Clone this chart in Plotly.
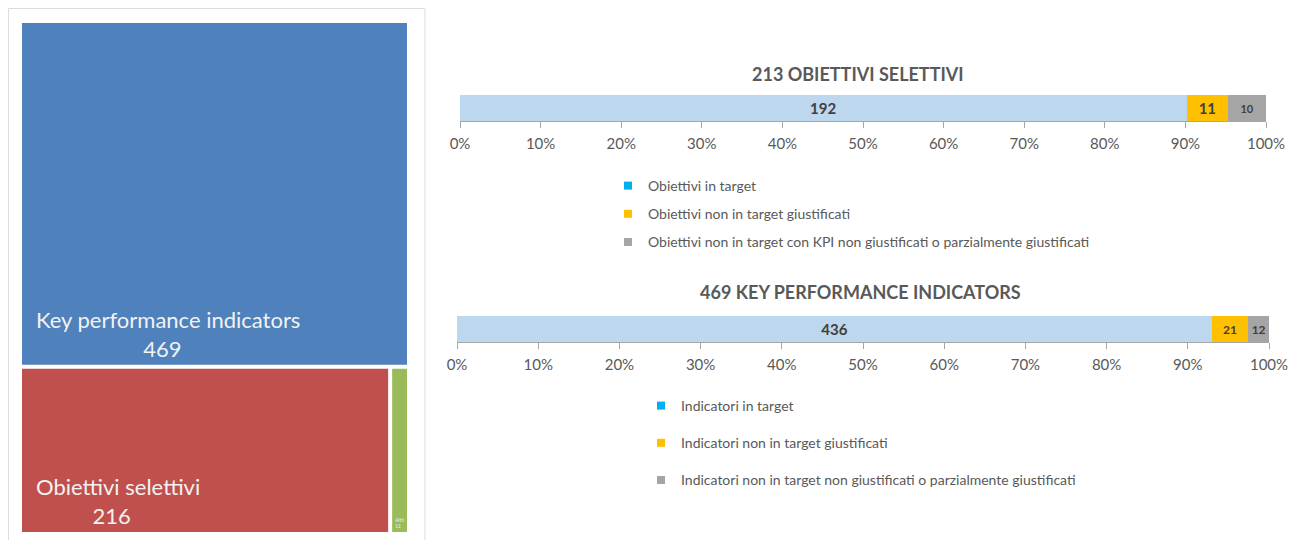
import plotly.graph_objects as go

# ---- data ----
tm_labels = ["Key performance indicators", "Obiettivi selettivi", "Altri"]
tm_values = [469, 216, 11]
tm_colors = ["#4F81BD", "#C0504D", "#9BBB59"]

obj_title = "213 OBIETTIVI SELETTIVI"
obj_names = ["Obiettivi in target", "Obiettivi non in target giustificati",
             "Obiettivi non in target con KPI non giustificati o parzialmente giustificati"]
obj_values = [192, 11, 10]

kpi_title = "469 KEY PERFORMANCE INDICATORS"
kpi_names = ["Indicatori in target", "Indicatori non in target giustificati",
             "Indicatori non in target non giustificati o parzialmente giustificati"]
kpi_values = [436, 21, 12]

bar_colors = ["#BDD7EE", "#FFC000", "#A5A5A5"]
legend_colors = ["#00B0F0", "#FFC000", "#A5A5A5"]
label_sizes_obj = [15, 15, 11]
label_sizes_kpi = [15, 12, 12]

top_note = "151 KPI"

FONT = "Lato"
GREY = "#595959"
W, H, OFF = 1296, 540, 8  # page offset of the plot div


def fx(px):
    return (px - OFF) / W


def fy(py):
    return 1 - (py - OFF) / H


fig = go.Figure()

# ---- treemap ----
nb = "\u00a0"
ind = "\u2002"
templates = [
    ind + "%{label}<br>" + nb * 21 + "%{value}",
    ind + "%{label}<br>" + nb * 12 + "%{value}",
    "%{label}<br>%{value}",
]
fig.add_trace(go.Treemap(
    labels=tm_labels,
    parents=[""] * len(tm_labels),
    values=tm_values,
    marker=dict(colors=tm_colors, line=dict(width=0), pad=dict(t=0, l=0, r=0, b=0)),
    texttemplate=templates,
    textposition="bottom left",
    textfont=dict(family=FONT, size=22, color="#F2F2F2"),
    tiling=dict(pad=4),
    pathbar=dict(visible=False),
    domain=dict(x=[fx(22), fx(407)], y=[fy(532), fy(23)]),
    sort=True,
    hoverinfo="label+value",
))

# ---- stacked bars ----
def add_bars(names, values, sizes, xa, ya, legend):
    for i, (n, v) in enumerate(zip(names, values)):
        fig.add_trace(go.Bar(
            x=[v], y=[0], orientation="h", name=n,
            marker=dict(color=bar_colors[i], line=dict(width=0)),
            text=[str(v)], textposition="inside", insidetextanchor="middle",
            textangle=0, constraintext="none",
            textfont=dict(family=FONT, size=sizes[i], color="#404040", weight="bold"),
            xaxis=xa, yaxis=ya, showlegend=False, width=1,
        ))
    for i, n in enumerate(names):
        fig.add_trace(go.Scatter(
            x=[None], y=[None], mode="markers", name=n,
            marker=dict(symbol="square", size=8, color=legend_colors[i]),
            xaxis=xa, yaxis=ya, legend=legend, legendgroup=legend + str(i),
        ))

add_bars(obj_names, obj_values, label_sizes_obj, "x", "y", "legend")
add_bars(kpi_names, kpi_values, label_sizes_kpi, "x2", "y2", "legend2")

axis_common = dict(
    range=[0, 100], dtick=10, ticksuffix="%", showgrid=False, zeroline=False,
    showline=True, linecolor="#A6A6A6", linewidth=1, ticks="outside",
    tickcolor="#A6A6A6", ticklen=6, tickfont=dict(family=FONT, size=15, color=GREY),
    ticklabelstandoff=3, fixedrange=True, automargin=False,
)
yaxis_common = dict(range=[-0.5, 0.5], visible=False, fixedrange=True, automargin=False)

fig.update_layout(
    width=W, height=H,
    margin=dict(l=0, r=0, t=0, b=0, autoexpand=False),
    paper_bgcolor="white", plot_bgcolor="white",
    barmode="stack", barnorm="percent",
    xaxis=dict(domain=[fx(460), fx(1266)], anchor="y", **axis_common),
    yaxis=dict(domain=[fy(121), fy(95)], anchor="x", **yaxis_common),
    xaxis2=dict(domain=[fx(457), fx(1269)], anchor="y2", **axis_common),
    yaxis2=dict(domain=[fy(342), fy(316)], anchor="x2", **yaxis_common),
    legend=dict(x=fx(608), y=fy(170), xanchor="left", yanchor="top",
                font=dict(family=FONT, size=14, color=GREY), tracegroupgap=7,
                bgcolor="rgba(0,0,0,0)", itemclick=False),
    legend2=dict(x=fx(641), y=fy(390), xanchor="left", yanchor="top",
                 font=dict(family=FONT, size=14, color=GREY), tracegroupgap=16,
                 bgcolor="rgba(0,0,0,0)", itemclick=False),
    annotations=[
        dict(text=obj_title, x=fx(858), y=fy(74), xref="paper", yref="paper",
             xanchor="center", yanchor="middle", showarrow=False,
             font=dict(family=FONT, size=18, color=GREY, weight="bold")),
        dict(text=kpi_title, x=fx(860), y=fy(292), xref="paper", yref="paper",
             xanchor="center", yanchor="middle", showarrow=False,
             font=dict(family=FONT, size=18, color=GREY, weight="bold")),
        dict(text=top_note, x=fx(727), y=fy(12), xref="paper", yref="paper",
             xanchor="center", yanchor="bottom", showarrow=False,
             font=dict(family="Liberation Serif", size=18, color="#FF0000", weight="bold")),
    ],
    shapes=[dict(type="rect", xref="paper", yref="paper",
                 x0=fx(8.5), x1=fx(425), y0=-0.05, y1=fy(8.5),
                 line=dict(color="#DDDDDD", width=1), layer="below")],
    showlegend=True,
)

fig.write_html("out.html")
